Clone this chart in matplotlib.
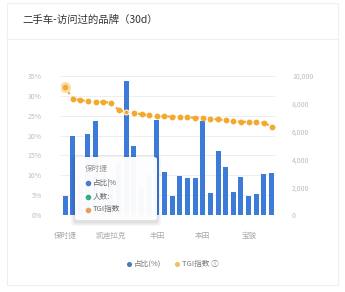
import numpy as np
import matplotlib
matplotlib.use("Agg")
import matplotlib.pyplot as plt
from matplotlib.patches import FancyBboxPatch, Rectangle
from matplotlib.lines import Line2D

plt.rcParams['font.family'] = ['Noto Sans CJK SC', 'DejaVu Sans']

# data
share = [4.8, 20.0, 8.0, 20.4, 23.7, 12.0, 9.0, 13.0, 33.8, 17.4, 7.0, 10.0, 23.9, 10.8,
         4.8, 9.7, 9.2, 9.3, 23.6, 5.5, 16.2, 12.2, 5.8, 9.5, 4.8, 5.2, 10.2, 10.6]
tgi = [9180, 8380, 8260, 8190, 8160, 8140, 8070, 7560, 7390, 7340, 7250, 7170, 7130, 7100,
       7080, 7050, 7030, 7000, 6960, 6930, 6880, 6840, 6740, 6710, 6690, 6670, 6640, 6350]
tick_labels = ['保时捷', '凯迪拉克', '丰田', '本田', '宝骏']
left_ticks = [0, 5, 10, 15, 20, 25, 30, 35]
right_ticks = [0, 2000, 4000, 6000, 8000, 10000]

blue = '#3d7bd9'
orange = '#f2aa2e'
W, H = 345, 292

fig = plt.figure(figsize=(W / 100, H / 100), dpi=100)
fig.patch.set_facecolor('white')

def fx(px):
    return px / W

def fy(py):
    return 1 - py / H

# card frame, title, separator
fig.patches.append(Rectangle((fx(7), fy(285)), fx(331), 282 / H, transform=fig.transFigure,
                             facecolor='none', edgecolor='#efefef', lw=0.8, zorder=0))
fig.add_artist(Line2D([fx(7), fx(338)], [fy(39), fy(39)], color='#f0f0f0', lw=0.8))
fig.text(fx(22), fy(20), '二手车-访问过的品牌（30d）', fontsize=7.5, color='#333333',
         va='center', ha='left')

ax = fig.add_axes([fx(61.2), fy(215), fx(275.4 - 61.2), (215 - 76) / H])
x = np.arange(len(share))
ax.bar(x, share, width=0.65, color=blue, zorder=2)
ax.set_xlim(-0.5, len(share) - 0.5)
ax.set_ylim(0, 35)
ax.set_yticks(left_ticks)
ax.set_yticklabels([f'{v}%' for v in left_ticks])
ax.set_xticks(range(0, len(share), 6))
ax.set_xticklabels(tick_labels)
ax.grid(axis='y', color='#eeeeee', lw=0.7, zorder=0)
ax.tick_params(axis='y', length=0, pad=14, labelsize=5, labelcolor='#bdbdbd')
ax.tick_params(axis='x', length=0, pad=12, labelsize=5.5, labelcolor='#aaaaaa')
for s in ax.spines.values():
    s.set_visible(False)

ax2 = ax.twinx()
ax2.plot(x, tgi, color=orange, ls=':', lw=1.6, marker='o', ms=3.2, mec=orange, mfc=orange)
ax2.plot([x[0]], [tgi[0]], 'o', ms=7, color=orange, alpha=0.3)
ax2.plot([x[8]], [tgi[8]], 'o', ms=3.6, mfc=orange, mec='white', mew=0.6)
ax2.set_ylim(0, 10000)
ax2.set_yticks(right_ticks)
ax2.set_yticklabels([f'{v:,}' for v in right_ticks])
ax2.tick_params(axis='y', length=0, pad=12, labelsize=5, labelcolor='#bdbdbd')
for s in ax2.spines.values():
    s.set_visible(False)

# tooltip with soft shadow
for i, a in enumerate([0.03, 0.04, 0.05]):
    g = 4 - i * 1.3
    fig.patches.append(FancyBboxPatch((fx(75 - g), fy(220 + g + 2)), fx(82 + 2 * g), (63 + 2 * g) / H,
                                      boxstyle='round,pad=0,rounding_size=0.01', transform=fig.transFigure,
                                      facecolor='#000000', edgecolor='none', alpha=a, zorder=5))
fig.patches.append(FancyBboxPatch((fx(75), fy(220)), fx(82), 63 / H,
                                  boxstyle='round,pad=0,rounding_size=0.008', transform=fig.transFigure,
                                  facecolor='white', edgecolor='none', alpha=0.97, zorder=6))
fig.text(fx(85), fy(169), tick_labels[0], fontsize=5.5, color='#999999', va='center', zorder=7)
tip_rows = [('占比|%', '#4a7bd0', 182.5), ('人数:', '#2fae8a', 196.5), ('TGI指数', '#f29a5a', 209.5)]
for label, c, py in tip_rows:
    fig.add_artist(Line2D([fx(87.5)], [fy(py)], marker='o', ms=3, color=c, zorder=7))
    fig.text(fx(93), fy(py), label, fontsize=5.5, color='#666666', va='center', zorder=7)

# legend at the bottom
fig.add_artist(Line2D([fx(129)], [fy(264)], marker='o', ms=2.6, color='#4a78c0'))
fig.text(fx(134), fy(264), '占比(%)', fontsize=5.5, color='#777777', va='center')
fig.add_artist(Line2D([fx(177)], [fy(264)], marker='o', ms=2.6, color='#eec060'))
fig.text(fx(182), fy(264), 'TGI指数 ⓘ', fontsize=5.5, color='#777777', va='center')

fig.savefig('out.png', dpi=100, facecolor='white')
